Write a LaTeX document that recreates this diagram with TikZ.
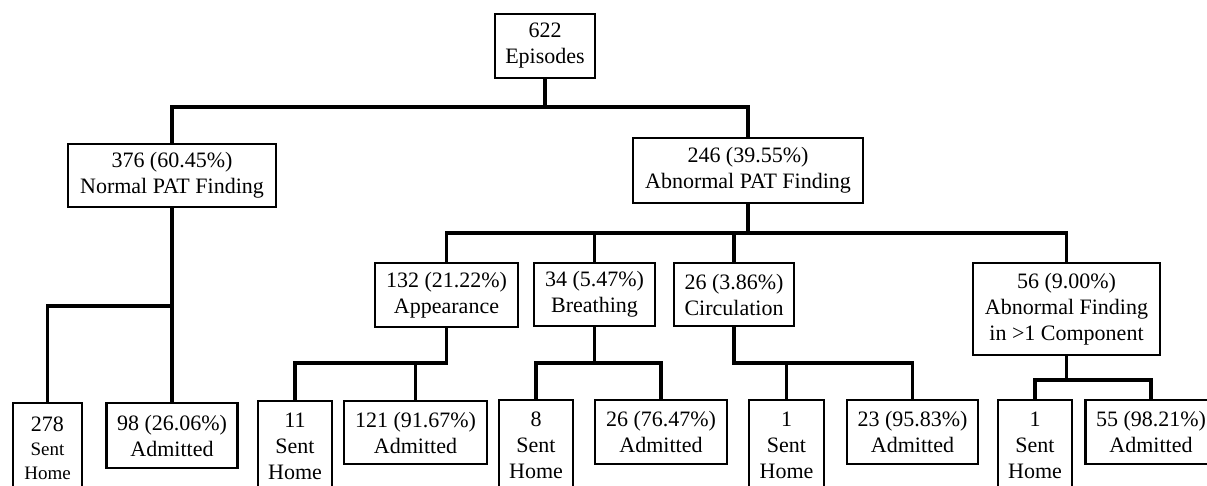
\documentclass[tikz,border=0pt]{standalone}
\usepackage{fontspec}
\setmainfont{Liberation Serif}
\newcommand{\fsmain}{\fontsize{22}{26}\selectfont}
\newcommand{\fssmall}{\fontsize{19}{24}\selectfont}
\begin{document}
\begin{tikzpicture}[x=1pt,y=-1pt,
  box/.style={draw, line width=2.1pt, inner sep=0pt, align=center, font=\fsmain},
  conn/.style={line width=3.2pt, line join=miter}]
\clip (0,0) rectangle (1207,486);
\fill[white] (0,0) rectangle (1207,486);
% level 0
\node[box, minimum width=100pt, minimum height=64pt] (top) at (545,46) {622\\Episodes};
% level 1
\node[box, minimum width=208pt, minimum height=63pt] (normal) at (172,175.5) {376 (60.45\%)\\Normal PAT Finding};
\node[box, minimum width=230pt, minimum height=65pt] (abn) at (748,170.5) {246 (39.55\%)\\Abnormal PAT Finding};
% level 2
\node[box, minimum width=143pt, minimum height=64pt] (app) at (446.5,295) {132 (21.22\%)\\Appearance};
\node[box, minimum width=121pt, minimum height=63pt] (bre) at (594.5,294.5) {34 (5.47\%)\\Breathing};
\node[box, minimum width=120pt, minimum height=63pt] (cir) at (734,294.5) {26 (3.86\%)\\Circulation};
\node[box, minimum width=187pt, minimum height=92pt] (mul) at (1066.5,309) {56 (9.00\%)\\Abnormal Finding\\in >1 Component};
% level 3
\node[box, minimum width=69pt, minimum height=91pt, anchor=north] (nsh) at (47.5,402) {278\\[-2pt]{\fssmall Sent}\\[-2pt]{\fssmall Home}};
\node[box, minimum width=131pt, minimum height=65pt, anchor=north] (nad) at (172,402) {98 (26.06\%)\\Admitted};
\node[box, minimum width=74pt, minimum height=91pt, anchor=north] (ash) at (295,400) {11\\Sent\\Home};
\node[box, minimum width=143pt, minimum height=63pt, anchor=north] (aad) at (415.5,400) {121 (91.67\%)\\Admitted};
\node[box, minimum width=74pt, minimum height=91pt, anchor=north] (bsh) at (536,399) {8\\Sent\\Home};
\node[box, minimum width=132pt, minimum height=64pt, anchor=north] (bad) at (661,399) {26 (76.47\%)\\Admitted};
\node[box, minimum width=75pt, minimum height=91pt, anchor=north] (csh) at (786.5,399) {1\\Sent\\Home};
\node[box, minimum width=131pt, minimum height=64pt, anchor=north] (cad) at (912.5,399) {23 (95.83\%)\\Admitted};
\node[box, minimum width=74pt, minimum height=91pt, anchor=north] (msh) at (1035,399) {1\\Sent\\Home};
\node[box, minimum width=131pt, minimum height=64pt, anchor=north] (mad) at (1151,399) {55 (98.21\%)\\Admitted};
% connectors level 0-1
\draw[conn] (top.south) -- (top.south |- 0,107);
\draw[conn] (normal.north) -- (normal.north |- 0,107) -- (abn.north |- 0,107) -- (abn.north);
% level 1-2
\draw[conn] (abn.south) -- (abn.south |- 0,233);
\draw[conn] (app.north) -- (app.north |- 0,233) -- (mul.north |- 0,233) -- (mul.north);
\draw[conn] (bre.north) -- (bre.north |- 0,233);
\draw[conn] (cir.north) -- (cir.north |- 0,233);
% normal branch
\draw[conn] (normal.south) -- (nad.north);
\draw[conn] (nsh.north) -- (nsh.north |- 0,306) -- (nad.north |- 0,306);
% appearance
\draw[conn] (ash.north) -- (ash.north |- 0,363) -- (app.south |- 0,363) -- (app.south);
\draw[conn] (aad.north) -- (aad.north |- 0,363);
% breathing
\draw[conn] (bsh.north) -- (bsh.north |- 0,363) -- (bad.north |- 0,363) -- (bad.north);
\draw[conn] (bre.south) -- (bre.south |- 0,363);
% circulation
\draw[conn] (cir.south) -- (cir.south |- 0,363) -- (cad.north |- 0,363) -- (cad.north);
\draw[conn] (csh.north) -- (csh.north |- 0,363);
% multiple
\draw[conn] (msh.north) -- (msh.north |- 0,380) -- (mad.north |- 0,380) -- (mad.north);
\draw[conn] (mul.south) -- (mul.south |- 0,380);
\end{tikzpicture}
\end{document}
